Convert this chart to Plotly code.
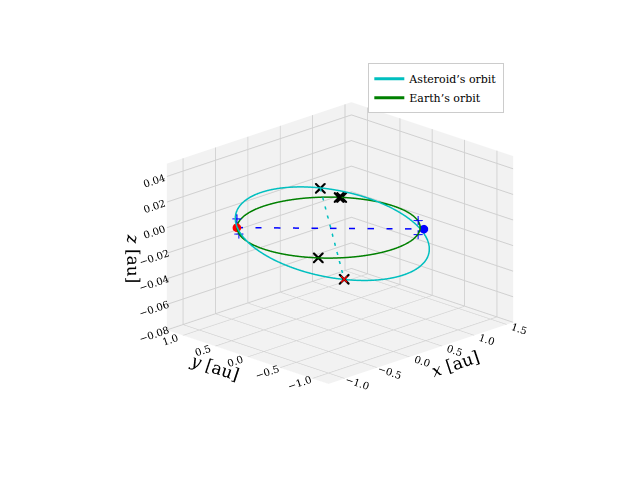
import numpy as np
import plotly.graph_objects as go

# Earth orbit: radius [au]
earth_radius = 1.0
# Asteroid orbit as ellipse in rotated (s, d) frame: centre, semi-axes, inclination amplitudes [au]
ast_center_sd = [0.04, -0.20]
ast_axes_sd = [1.06, 1.03]
ast_tilt_d = 0.010
ast_tilt_s = -0.012

# Marked positions [x, y, z]
red_dot = [-0.71, 0.71, 0.0]
blue_dot = [0.76, -0.71, -0.002]
plus_x = [-0.71, -0.69, 0.68, 0.68]
plus_y = [0.71, 0.70, -0.70, -0.70]
plus_z = [0.007, -0.005, 0.006, -0.005]
cross_x = [0.52, 0.78, 0.80, -0.78, -0.75]
cross_y = [0.65, 0.62, 0.60, -0.62, -0.99]
cross_z = [0.011, 0.0, 0.0, 0.0, -0.011]
node_x = [0.52, -0.75]
node_y = [0.65, -0.99]
node_z = [0.011, -0.011]
red_cross = [-0.75, -0.99, -0.011]

t = np.linspace(0, 2*np.pi, 361)
ex, ey, ez = earth_radius*np.cos(t), earth_radius*np.sin(t), 0*t
s = ast_center_sd[0] + ast_axes_sd[0]*np.cos(t)
d = ast_center_sd[1] + ast_axes_sd[1]*np.sin(t)
ax_ = (s + d)/np.sqrt(2); ay_ = (d - s)/np.sqrt(2)
az_ = ast_tilt_d*np.sin(t) + ast_tilt_s*np.cos(t)

fig = go.Figure()
fig.add_trace(go.Scatter3d(x=ax_, y=ay_, z=az_, mode="lines", line=dict(color="#00BFBF", width=3), name="Asteroid’s orbit"))
fig.add_trace(go.Scatter3d(x=ex, y=ey, z=ez, mode="lines", line=dict(color="green", width=3), name="Earth’s orbit"))
fig.add_trace(go.Scatter3d(x=node_x, y=node_y, z=node_z, mode="lines", line=dict(color="#00BFBF", width=3, dash="longdash"), showlegend=False))
fig.add_trace(go.Scatter3d(x=[red_dot[0], blue_dot[0]], y=[red_dot[1], blue_dot[1]], z=[red_dot[2], blue_dot[2]], mode="lines", line=dict(color="blue", width=3, dash="longdash"), showlegend=False))
fig.add_trace(go.Scatter3d(x=[red_dot[0]], y=[red_dot[1]], z=[red_dot[2]], mode="markers", marker=dict(color="red", size=5), showlegend=False))
fig.add_trace(go.Scatter3d(x=[blue_dot[0]], y=[blue_dot[1]], z=[blue_dot[2]], mode="markers", marker=dict(color="blue", size=5), showlegend=False))
fig.add_trace(go.Scatter3d(x=plus_x, y=plus_y, z=plus_z, mode="markers", marker=dict(color="blue", size=5, symbol="cross"), showlegend=False))
fig.add_trace(go.Scatter3d(x=cross_x, y=cross_y, z=cross_z, mode="markers", marker=dict(color="black", size=2.5, symbol="x"), showlegend=False))
fig.add_trace(go.Scatter3d(x=[red_cross[0]], y=[red_cross[1]], z=[red_cross[2]], mode="markers", marker=dict(color="red", size=1.5, symbol="x"), showlegend=False))

ax_style = dict(backgroundcolor="#f2f2f2", showbackground=True, gridcolor="#d0d0d0", zeroline=False,
                showspikes=False, tickfont=dict(size=11, family="DejaVu Serif"))
fig.update_layout(
    width=640, height=480, paper_bgcolor="white", margin=dict(l=0, r=0, t=0, b=0),
    font=dict(family="DejaVu Serif", color="black"),
    legend=dict(x=0.563, y=0.885, bgcolor="white", bordercolor="#cccccc", borderwidth=1, font=dict(size=11)),
    scene=dict(
        xaxis=dict(ax_style, title=dict(text="<i>x</i> [au]", font=dict(size=17)), range=[-1.25, 1.6],
                   tickvals=[-1, -0.5, 0, 0.5, 1, 1.5], ticktext=["−1.0", "−0.5", "0.0", "0.5", "1.0", "1.5"]),
        yaxis=dict(ax_style, title=dict(text="<i>y</i> [au]", font=dict(size=17)), range=[-1.25, 1.25],
                   tickvals=[-1, -0.5, 0, 0.5, 1], ticktext=["−1.0", "−0.5", "0.0", "0.5", "1.0"]),
        zaxis=dict(ax_style, title=dict(text="<i>z</i> [au]", font=dict(size=17)), range=[-0.08, 0.05],
                   tickvals=[-0.08, -0.06, -0.04, -0.02, 0, 0.02, 0.04],
                   ticktext=["−0.08", "−0.06", "−0.04", "−0.02", "0.00", "0.02", "0.04"]),
        aspectmode="manual", aspectratio=dict(x=1.45, y=1.27, z=0.98),
        camera=dict(eye=dict(x=-1.0, y=-1.0, z=0.5), center=dict(x=0, y=0, z=0),
                    projection=dict(type="orthographic")),
        domain=dict(x=[0.119, 0.919], y=[0.1345, 0.8845]),
    ),
)
fig.write_html("out.html")
